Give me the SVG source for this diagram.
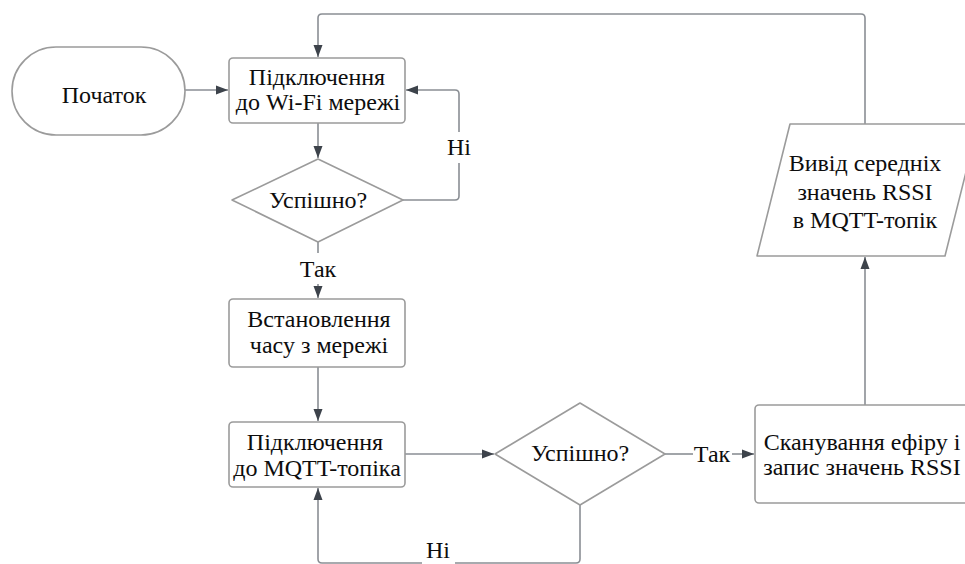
<svg xmlns="http://www.w3.org/2000/svg" width="965" height="564" viewBox="0 0 965 564">
  <style>
    .shape { fill: #ffffff; stroke: #9b9b9b; stroke-width: 1.6; }
    .edge { fill: none; stroke: #8a8e94; stroke-width: 1.6; }
    text { font-size: 24px; fill: #0d0d0d; text-anchor: middle; dominant-baseline: central; }
  </style>
  <defs>
    <marker id="arrow" viewBox="0 0 12 10" refX="12" refY="5" markerWidth="12" markerHeight="10" markerUnits="userSpaceOnUse" orient="auto">
      <path d="M0,0.5 L12,5 L0,9.5 Z" fill="#3d434b"/>
    </marker>
  </defs>
  <rect width="965" height="564" fill="#ffffff"/>

  <g id="connectors">
    <!-- start -> wifi -->
    <path class="edge" d="M185,90 L228,90" marker-end="url(#arrow)"/>
    <!-- wifi -> decision 1 -->
    <path class="edge" d="M318,123 L318,158" marker-end="url(#arrow)"/>
    <!-- decision 1 "no" -> back to wifi -->
    <path class="edge" d="M403,200 L455,200 Q459,200 459,196 L459,163"/>
    <path class="edge" d="M459,132 L459,94 Q459,90 455,90 L406,90" marker-end="url(#arrow)"/>
    <!-- decision 1 "yes" -> time -->
    <path class="edge" d="M318,242 L318,253"/>
    <path class="edge" d="M318,284 L318,298" marker-end="url(#arrow)"/>
    <!-- time -> mqtt -->
    <path class="edge" d="M318,367 L318,421" marker-end="url(#arrow)"/>
    <!-- mqtt -> decision 2 -->
    <path class="edge" d="M405,454 L494,454" marker-end="url(#arrow)"/>
    <!-- decision 2 "yes" -> scan -->
    <path class="edge" d="M665,454 L693,454"/>
    <path class="edge" d="M732,454 L754,454" marker-end="url(#arrow)"/>
    <!-- decision 2 "no" -> mqtt -->
    <path class="edge" d="M580,505 L580,559 Q580,563 576,563 L455,563"/>
    <path class="edge" d="M422,563 L322,563 Q318,563 318,559 L318,488" marker-end="url(#arrow)"/>
    <!-- scan -> output -->
    <path class="edge" d="M865,405 L865,257" marker-end="url(#arrow)"/>
    <!-- output -> wifi -->
    <path class="edge" d="M865,124 L865,18 Q865,14 861,14 L322,14 Q318,14 318,18 L318,57" marker-end="url(#arrow)"/>
  </g>

  <g id="start">
    <rect class="shape" x="12" y="47" width="173" height="88" rx="44" ry="44"/>
    <text x="104" y="95" font-family="Liberation Serif, serif" font-size="29">Початок</text>
  </g>

  <g id="wifi">
    <rect class="shape" x="229" y="58" width="176" height="65" rx="4"/>
    <text x="317" y="77" font-family="Liberation Serif, serif">Підключення</text>
    <text x="318" y="102" font-family="Liberation Serif, serif">до Wi-Fi мережі</text>
  </g>

  <g id="check-wifi">
    <polygon class="shape" points="318,159 403,200 318,242 232,200" stroke-linejoin="round"/>
    <text x="318" y="200" font-family="Liberation Serif, serif" font-size="26">Успішно?</text>
  </g>

  <g id="set-time">
    <rect class="shape" x="229" y="299" width="176" height="68" rx="4"/>
    <text x="319" y="319" font-family="Liberation Serif, serif" font-size="23.5">Встановлення</text>
    <text x="319" y="345" font-family="Liberation Serif, serif" font-size="23.5">часу з мережі</text>
  </g>

  <g id="mqtt">
    <rect class="shape" x="229" y="422" width="176" height="65" rx="4"/>
    <text x="315" y="442" font-family="Liberation Serif, serif">Підключення</text>
    <text x="317" y="468" font-family="Liberation Serif, serif">до MQTT-топіка</text>
  </g>

  <g id="check-mqtt">
    <polygon class="shape" points="580,403 665,454 580,505 495,454" stroke-linejoin="round"/>
    <text x="580" y="453" font-family="Liberation Serif, serif" font-size="26">Успішно?</text>
  </g>

  <g id="scan">
    <rect class="shape" x="755" y="405" width="225" height="98" rx="4"/>
    <text x="862" y="442" font-family="Liberation Serif, serif" font-size="24.5">Сканування ефіру і</text>
    <text x="862" y="467" font-family="Liberation Serif, serif" font-size="24.5">запис значень RSSI</text>
  </g>

  <g id="output">
    <polygon class="shape" points="790,124 978,124 945,256 757,256" stroke-linejoin="round"/>
    <text x="865" y="163" font-family="Liberation Serif, serif">Вивід середніх</text>
    <text x="865" y="192" font-family="Liberation Serif, serif">значень RSSI</text>
    <text x="865" y="220" font-family="Liberation Serif, serif">в MQTT-топік</text>
  </g>

  <g id="labels">
    <text x="459" y="147" font-family="Liberation Serif, serif">Ні</text>
    <text x="318" y="269" font-family="Liberation Serif, serif">Так</text>
    <text x="712" y="454" font-family="Liberation Serif, serif">Так</text>
    <text x="438" y="550" font-family="Liberation Serif, serif">Ні</text>
  </g>
</svg>
